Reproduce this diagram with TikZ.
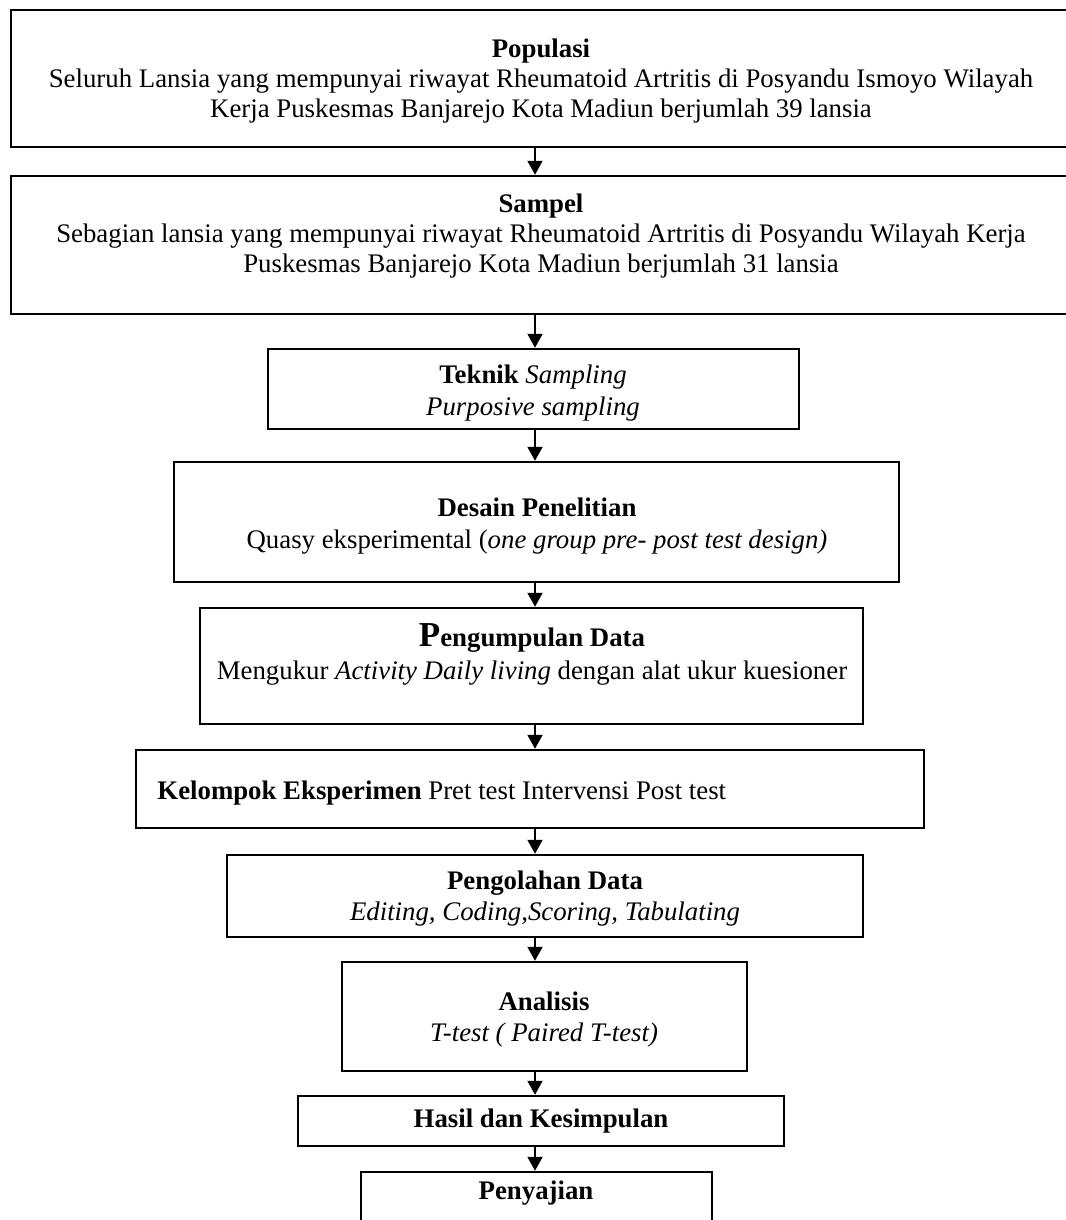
\documentclass[tikz,border=0pt]{standalone}
\usepackage{fontspec}
\setmainfont{Liberation Serif}
\usetikzlibrary{arrows.meta,fit}
\begin{document}
\begin{tikzpicture}[x=0.5pt,y=-0.5pt,
  box/.style={draw, line width=1.25pt, inner sep=0pt},
  arr/.style={-{Triangle[length=7pt,width=7.5pt]}, line width=1pt},
  txt/.style={anchor=base, inner sep=0pt, font=\fontsize{13.4}{15.5}\selectfont}]
\useasboundingbox[fill=white] (0,0) rectangle (1065,1220);
% boxes
\node[box, fit={(11,10) (1085,147)}] (pop) {};
\node[box, fit={(11,176) (1085,314)}] (sam) {};
\node[box, fit={(268,349) (799,429)}] (tek) {};
\node[box, fit={(174,462) (899,582)}] (des) {};
\node[box, fit={(200,608) (863,724)}] (pen) {};
\node[box, fit={(136,750) (924,828)}] (kel) {};
\node[box, fit={(227,855) (863,937)}] (olah) {};
\node[box, fit={(342,962) (747,1071)}] (ana) {};
\node[box, fit={(298,1096) (784,1146)}] (has) {};
\node[box, fit={(361,1172) (712,1260)}] (saji) {};
% texts
\node[txt] (pop1) at (541,58) {\textbf{Populasi}};
\node[txt] (pop2) at (541,88) {Seluruh Lansia yang mempunyai riwayat Rheumatoid Artritis di Posyandu Ismoyo Wilayah};
\node[txt] (pop3) at (541,118) {Kerja Puskesmas Banjarejo Kota Madiun berjumlah 39 lansia};
\node[txt] (sam1) at (541,212) {\textbf{Sampel}};
\node[txt] (sam2) at (541,242) {Sebagian lansia yang mempunyai riwayat Rheumatoid Artritis di Posyandu Wilayah Kerja};
\node[txt] (sam3) at (541,272) {Puskesmas Banjarejo Kota Madiun berjumlah 31 lansia};
\node[txt] (tek1) at (533,383) {\textbf{Teknik} \textit{Sampling}};
\node[txt] (tek2) at (533,415) {\textit{Purposive sampling}};
\node[txt] (des1) at (537,516) {\textbf{Desain Penelitian}};
\node[txt] (des2) at (537,548) {Quasy eksperimental (\textit{one group pre- post test design)}};
\node[txt] (pen1) at (532,646) {\textbf{{\fontsize{17.5}{18}\selectfont P}engumpulan Data}};
\node[txt] (pen2) at (532,679) {Mengukur \textit{Activity Daily living} dengan alat ukur kuesioner};
\node[txt, anchor=base west] (kel1) at (157,799) {\textbf{Kelompok Eksperimen} Pret test Intervensi Post test};
\node[txt] (olah1) at (545,889) {\textbf{Pengolahan Data}};
\node[txt] (olah2) at (545,920) {\textit{Editing, Coding,Scoring, Tabulating}};
\node[txt] (ana1) at (544,1010) {\textbf{Analisis}};
\node[txt] (ana2) at (544,1041) {\textit{T-test ( Paired T-test)}};
\node[txt] (has1) at (541,1127) {\textbf{Hasil dan Kesimpulan}};
\node[txt] (saji1) at (536,1199) {\textbf{Penyajian}};
% connectors
\coordinate (ax) at (535,0);
\draw[arr] (pop.south -| ax) -- (sam.north -| ax);
\draw[arr] (sam.south -| ax) -- (tek.north -| ax);
\draw[arr] (tek.south -| ax) -- (des.north -| ax);
\draw[arr] (des.south -| ax) -- (pen.north -| ax);
\draw[arr] (pen.south -| ax) -- (kel.north -| ax);
\draw[arr] (kel.south -| ax) -- (olah.north -| ax);
\draw[arr] (olah.south -| ax) -- (ana.north -| ax);
\draw[arr] (ana.south -| ax) -- (has.north -| ax);
\draw[arr] (has.south -| ax) -- (saji.north -| ax);
\end{tikzpicture}
\end{document}
